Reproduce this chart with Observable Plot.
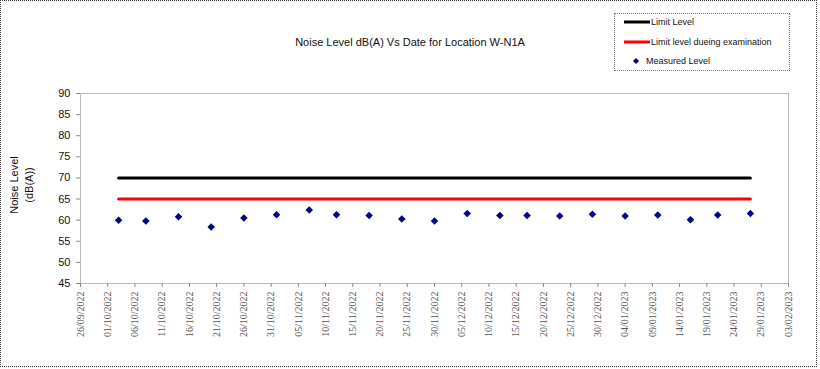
<!DOCTYPE html>
<html>
<head>
<meta charset="utf-8">
<script src="https://cdn.jsdelivr.net/npm/d3@7"></script>
<script src="https://cdn.jsdelivr.net/npm/@observablehq/plot@0.6"></script>
<style>
  html, body { margin: 0; padding: 0; background: #fff; }
  #wrap { position: relative; width: 820px; height: 369px; overflow: hidden; font-family: Arial, "Liberation Sans", sans-serif; }
  #border { position: absolute; left: 0; top: 0; width: 815px; height: 365px; border: 1px dotted #333; box-sizing: content-box; }
  #title { position: absolute; left: 0; width: 820px; top: 36px; text-align: center; font-size: 11px; color: #111; }
  #ylabel { position: absolute; left: 22px; top: 185px; transform: translate(-50%, -50%) rotate(-90deg); text-align: center; font-size: 11px; line-height: 15px; color: #111; white-space: nowrap; }
  #legend { position: absolute; left: 614px; top: 13px; width: 174px; height: 56px; border: 1px dotted #777; font-size: 9px; color: #111; }
  #legend svg { position: absolute; left: 0; top: 0; }
  svg.plot { position: absolute; left: 0; top: 0; }
</style>
</head>
<body>
<div id="wrap">
  <div id="border"></div>
  <div id="title">Noise Level dB(A) Vs Date for Location W-N1A</div>
  <div id="ylabel">Noise Level<br>(dB(A))</div>
  <div id="legend"></div>
</div>
<script>
// ---- data ----
const measuredDates = [
  "2022-10-03","2022-10-08","2022-10-14","2022-10-20","2022-10-26",
  "2022-11-01","2022-11-07","2022-11-12","2022-11-18","2022-11-24",
  "2022-11-30","2022-12-06","2022-12-12","2022-12-17","2022-12-23",
  "2022-12-29","2023-01-04","2023-01-10","2023-01-16","2023-01-21","2023-01-27"
];
const measuredValues = [
  60.0, 59.8, 60.8, 58.4, 60.5,
  61.3, 62.4, 61.3, 61.1, 60.3,
  59.8, 61.6, 61.1, 61.1, 61.0,
  61.4, 61.0, 61.2, 60.1, 61.2, 61.6
];
const limitLineDates = ["2022-10-03", "2023-01-27"];
const limitLevel = 70;
const limitLevelExam = 65;
const xDomain = ["2022-09-26", "2023-02-03"];
const xTickStep = 5; // days
const yTicks = [45, 50, 55, 60, 65, 70, 75, 80, 85, 90];
const legendLabels = ["Limit Level", "Limit level dueing examination", "Measured Level"];

// ---- build ----
const parse = d3.utcParse("%Y-%m-%d");
const measured = measuredDates.map((d, i) => ({date: parse(d), value: measuredValues[i]}));
const limit = limitLineDates.map(d => ({date: parse(d), value: limitLevel}));
const limitExam = limitLineDates.map(d => ({date: parse(d), value: limitLevelExam}));
const x0 = parse(xDomain[0]), x1 = parse(xDomain[1]);
const xTicks = d3.utcDay.range(x0, d3.utcDay.offset(x1, 1), xTickStep);

const chart = Plot.plot({
  width: 820,
  height: 369,
  marginLeft: 80,
  marginRight: 32,
  marginTop: 93,
  marginBottom: 86,
  style: {background: "transparent", overflow: "visible"},
  x: {type: "utc", domain: [x0, x1]},
  y: {domain: [45, 90]},
  marks: [
    Plot.frame({stroke: "#777", strokeDasharray: "1,1"}),
    Plot.axisY({
      ticks: yTicks, tickSize: 4, tickPadding: 6, stroke: "#888",
      fontSize: 11, fontFamily: "Arial, 'Liberation Sans', sans-serif", fill: "#111", label: null
    }),
    Plot.axisX({
      ticks: xTicks, tickSize: 4, tickPadding: 4, stroke: "#888",
      tickFormat: d3.utcFormat("%d/%m/%Y"), tickRotate: -90,
      fontSize: 10, fontFamily: "'Liberation Serif', 'Times New Roman', serif", fill: "#555", label: null
    }),
    Plot.line(limit, {x: "date", y: "value", stroke: "#000", strokeWidth: 3}),
    Plot.line(limitExam, {x: "date", y: "value", stroke: "#ff0000", strokeWidth: 3}),
    Plot.dot(measured, {x: "date", y: "value", symbol: "diamond2", r: 3.4, fill: "#00008b", stroke: "none"})
  ]
});
chart.classList.add("plot");
document.getElementById("wrap").appendChild(chart);

// ---- legend ----
const leg = d3.select("#legend");
const lsvg = leg.append("svg").attr("width", 174).attr("height", 56);
const items = [
  {type: "line", color: "#000", label: legendLabels[0], y: 8},
  {type: "line", color: "#ff0000", label: legendLabels[1], y: 28},
  {type: "dot", color: "#00008b", label: legendLabels[2], y: 47}
];
items.forEach(it => {
  if (it.type === "line") {
    lsvg.append("line").attr("x1", 9).attr("x2", 35).attr("y1", it.y).attr("y2", it.y)
      .attr("stroke", it.color).attr("stroke-width", 3);
    lsvg.append("text").attr("x", 36).attr("y", it.y + 3).attr("font-size", 9)
      .attr("font-family", "Arial, 'Liberation Sans', sans-serif").attr("fill", "#111").text(it.label);
  } else {
    lsvg.append("path").attr("d", d3.symbol(d3.symbolDiamond2, 24)()).attr("transform", `translate(21,${it.y})`)
      .attr("fill", it.color);
    lsvg.append("text").attr("x", 31).attr("y", it.y + 3).attr("font-size", 9)
      .attr("font-family", "Arial, 'Liberation Sans', sans-serif").attr("fill", "#111").text(it.label);
  }
});
</script>
</body>
</html>
